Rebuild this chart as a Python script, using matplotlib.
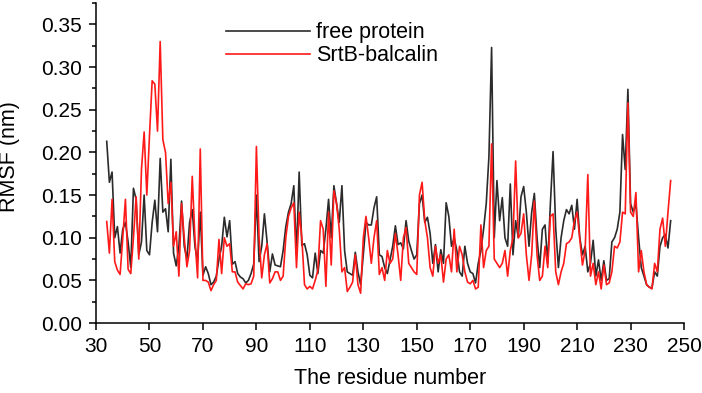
import numpy as np
import matplotlib
matplotlib.use("Agg")
import matplotlib.pyplot as plt
from matplotlib.ticker import MultipleLocator, FixedLocator

plt.rcParams["font.family"] = ["Liberation Sans", "DejaVu Sans"]

# ---- DATA ----
first_residue = 34

free_protein = [
    0.213, 0.165, 0.177, 0.100, 0.113, 0.082, 0.110, 0.118, 0.095, 0.065,  # 34-43
    0.158, 0.145, 0.080, 0.095, 0.150, 0.085, 0.080, 0.118, 0.144, 0.107,  # 44-53
    0.193, 0.130, 0.134, 0.107, 0.192, 0.082, 0.067, 0.090, 0.143, 0.090,  # 54-63
    0.075, 0.118, 0.133, 0.090, 0.072, 0.130, 0.056, 0.066, 0.058, 0.045,  # 64-73
    0.048, 0.055, 0.075, 0.090, 0.124, 0.101, 0.120, 0.069, 0.072, 0.058,  # 74-83
    0.054, 0.052, 0.047, 0.050, 0.058, 0.069, 0.150, 0.072, 0.090, 0.128,  # 84-93
    0.095, 0.060, 0.081, 0.068, 0.067, 0.066, 0.085, 0.113, 0.130, 0.140,  # 94-103
    0.161, 0.080, 0.177, 0.091, 0.093, 0.080, 0.056, 0.053, 0.082, 0.058,  # 104-113
    0.085, 0.082, 0.110, 0.145, 0.100, 0.161, 0.140, 0.118, 0.161, 0.085,  # 114-123
    0.060, 0.058, 0.056, 0.083, 0.060, 0.045, 0.080, 0.118, 0.115, 0.115,  # 124-133
    0.135, 0.148, 0.080, 0.078, 0.065, 0.058, 0.074, 0.090, 0.114, 0.092,  # 134-143
    0.094, 0.087, 0.120, 0.096, 0.085, 0.075, 0.080, 0.140, 0.150, 0.118,  # 144-153
    0.124, 0.105, 0.070, 0.092, 0.060, 0.086, 0.070, 0.141, 0.125, 0.090,  # 154-163
    0.100, 0.085, 0.060, 0.055, 0.090, 0.070, 0.060, 0.058, 0.047, 0.070,  # 164-173
    0.085, 0.110, 0.140, 0.195, 0.323, 0.100, 0.167, 0.120, 0.147, 0.100,  # 174-183
    0.090, 0.163, 0.080, 0.120, 0.100, 0.148, 0.160, 0.130, 0.090, 0.130,  # 184-193
    0.152, 0.100, 0.065, 0.110, 0.115, 0.070, 0.140, 0.201, 0.110, 0.065,  # 194-203
    0.100, 0.120, 0.133, 0.128, 0.138, 0.110, 0.145, 0.100, 0.080, 0.090,  # 204-213
    0.060, 0.070, 0.097, 0.055, 0.074, 0.050, 0.073, 0.050, 0.052, 0.095,  # 214-223
    0.100, 0.110, 0.130, 0.221, 0.180, 0.274, 0.140, 0.130, 0.140, 0.100,  # 224-233
    0.065, 0.055, 0.045, 0.042, 0.041, 0.060, 0.055, 0.090, 0.100, 0.104,  # 234-243
    0.088, 0.120,                                                          # 244-245
]

srtb_balcalin = [
    0.119, 0.082, 0.145, 0.072, 0.062, 0.057, 0.100, 0.145, 0.063, 0.058,  # 34-43
    0.100, 0.148, 0.075, 0.180, 0.224, 0.150, 0.220, 0.284, 0.280, 0.225,  # 44-53
    0.330, 0.215, 0.200, 0.140, 0.165, 0.090, 0.107, 0.055, 0.140, 0.100,  # 54-63
    0.066, 0.085, 0.172, 0.100, 0.053, 0.204, 0.050, 0.050, 0.048, 0.038,  # 64-73
    0.045, 0.050, 0.098, 0.058, 0.100, 0.090, 0.093, 0.060, 0.060, 0.048,  # 74-83
    0.044, 0.040, 0.046, 0.045, 0.046, 0.055, 0.207, 0.100, 0.053, 0.080,  # 84-93
    0.093, 0.047, 0.052, 0.060, 0.060, 0.050, 0.055, 0.100, 0.125, 0.135,  # 94-103
    0.141, 0.065, 0.130, 0.100, 0.045, 0.040, 0.043, 0.040, 0.050, 0.062,  # 104-113
    0.120, 0.110, 0.043, 0.130, 0.068, 0.155, 0.140, 0.110, 0.060, 0.065,  # 114-123
    0.037, 0.042, 0.048, 0.080, 0.045, 0.035, 0.100, 0.125, 0.100, 0.070,  # 124-133
    0.100, 0.120, 0.057, 0.065, 0.050, 0.085, 0.070, 0.075, 0.105, 0.080,  # 134-143
    0.050, 0.100, 0.112, 0.070, 0.065, 0.060, 0.057, 0.150, 0.165, 0.120,  # 144-153
    0.100, 0.065, 0.055, 0.090, 0.070, 0.080, 0.048, 0.075, 0.080, 0.060,  # 154-163
    0.110, 0.060, 0.090, 0.080, 0.060, 0.048, 0.046, 0.050, 0.040, 0.042,  # 164-173
    0.115, 0.065, 0.085, 0.090, 0.210, 0.075, 0.070, 0.065, 0.070, 0.085,  # 174-183
    0.055, 0.085, 0.100, 0.190, 0.100, 0.105, 0.128, 0.080, 0.050, 0.080,  # 184-193
    0.143, 0.080, 0.050, 0.055, 0.090, 0.065, 0.125, 0.128, 0.060, 0.045,  # 194-203
    0.060, 0.070, 0.093, 0.095, 0.100, 0.120, 0.130, 0.098, 0.068, 0.085,  # 204-213
    0.174, 0.055, 0.070, 0.045, 0.060, 0.040, 0.068, 0.045, 0.047, 0.060,  # 214-223
    0.090, 0.088, 0.095, 0.130, 0.128, 0.258, 0.130, 0.125, 0.153, 0.060,  # 224-233
    0.085, 0.060, 0.045, 0.042, 0.040, 0.070, 0.060, 0.110, 0.123, 0.090,  # 234-243
    0.130, 0.167,                                                          # 244-245
]

series_labels = ["free protein", "SrtB-balcalin"]
series_colors = ["#2b2b2b", "#ff1a1a"]
x_ticks = [30, 50, 70, 90, 110, 130, 150, 170, 190, 210, 230, 250]

residues = np.arange(first_residue, first_residue + len(free_protein))

# ---- PLOT ----
fig = plt.figure(figsize=(7.02, 3.93), dpi=100)
ax = fig.add_axes([0.1368, 0.178, 0.8376, 0.814])

ax.plot(residues, free_protein, color=series_colors[0], lw=1.2,
        label=series_labels[0])
ax.plot(residues, srtb_balcalin, color=series_colors[1], lw=1.2,
        label=series_labels[1])

ax.set_xlim(30, 250)
ax.set_ylim(0, 0.375)
ax.xaxis.set_major_locator(FixedLocator(x_ticks))
ax.yaxis.set_major_locator(MultipleLocator(0.05))
ax.yaxis.set_minor_locator(MultipleLocator(0.025))
ax.yaxis.set_major_formatter(plt.FormatStrFormatter("%.2f"))

for side in ["top", "right"]:
    ax.spines[side].set_visible(False)
for side in ["left", "bottom"]:
    ax.spines[side].set_linewidth(1.1)

ax.tick_params(axis="both", which="major", direction="out", length=5,
               width=1.1, labelsize=15, pad=5)
ax.tick_params(axis="y", which="minor", direction="out", length=3, width=1.1)

ax.set_xlabel("The residue number", fontsize=15.5, labelpad=9)
ax.set_ylabel("RMSF (nm)", fontsize=15.5)
ax.yaxis.set_label_coords(-0.13, 0.52)

ax.legend(loc="upper left", bbox_to_anchor=(0.221, 0.94), frameon=False,
          fontsize=15.5, handlelength=3.9, handletextpad=0.3,
          labelspacing=0.1, borderpad=0, borderaxespad=0)

fig.savefig("out.png", dpi=100)
